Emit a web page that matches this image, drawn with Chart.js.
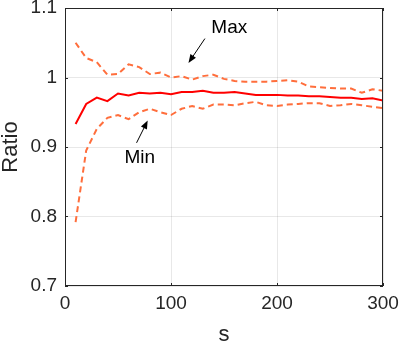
<!DOCTYPE html>
<html>
<head>
<meta charset="utf-8">
<script src="https://cdn.jsdelivr.net/npm/chart.js@4/dist/chart.umd.min.js"></script>
<style>
  html, body { margin: 0; padding: 0; background: #fff; }
  #wrap { width: 400px; height: 348px; }
</style>
</head>
<body>
<div id="wrap"><canvas id="ratioChart" width="400" height="348"></canvas></div>
<script>
'use strict';

// window size s
const sValues = [10, 20, 30, 40, 50, 60, 70, 80, 90, 100,
    110, 120, 130, 140, 150, 160, 170, 180, 190, 200,
    210, 220, 230, 240, 250, 260, 270, 280, 290, 300];

const meanRatio = [0.933, 0.962, 0.971, 0.966, 0.977, 0.974, 0.978, 0.977, 0.978, 0.976,
    0.979, 0.979, 0.981, 0.978, 0.978, 0.979, 0.977, 0.975, 0.975, 0.975,
    0.974, 0.974, 0.973, 0.973, 0.972, 0.971, 0.971, 0.969, 0.970, 0.967];

const maxRatio = [1.050, 1.028, 1.022, 1.004, 1.005, 1.019, 1.015, 1.005, 1.007, 1.000,
    1.002, 0.997, 1.002, 1.004, 0.998, 0.995, 0.994, 0.994, 0.994, 0.995,
    0.996, 0.994, 0.987, 0.986, 0.985, 0.984, 0.984, 0.978, 0.983, 0.981];

const minRatio = [0.792, 0.895, 0.926, 0.942, 0.946, 0.940, 0.950, 0.955, 0.950, 0.946,
    0.955, 0.959, 0.955, 0.961, 0.961, 0.960, 0.963, 0.965, 0.960, 0.959,
    0.961, 0.962, 0.963, 0.963, 0.959, 0.960, 0.962, 0.960, 0.958, 0.956];

const xTicks = [0, 100, 200, 300];
const yTicks = [0.7, 0.8, 0.9, 1, 1.1];

// annotation labels and arrows [fromX, fromY, toX, toY] in data units
const maxNote = { text: 'Max', x: 155, y: 1.072, arrow: [132, 1.056, 116.5, 1.021] };
const minNote = { text: 'Min', x: 70.5, y: 0.884, arrow: [67.5, 0.906, 78, 0.938] };

const axisColor = '#262626';
const dashColor = 'rgb(255, 110, 60)';

const toPairs = (ys) => ys.map((v, i) => ({ x: sValues[i], y: v }));

// box + inward ticks, like the original figure
const boxPlugin = {
    id: 'boxPlugin',
    afterDraw(chart) {
        const { ctx, chartArea: a, scales } = chart;
        ctx.save();
        ctx.strokeStyle = axisColor;
        ctx.lineWidth = 1;
        ctx.strokeRect(a.left + 0.5, a.top + 0.5, a.right - a.left - 1, a.bottom - a.top - 1);
        const tl = 3;
        ctx.beginPath();
        xTicks.forEach(t => {
            const px = Math.round(scales.x.getPixelForValue(t)) + 0.5;
            ctx.moveTo(px, a.bottom); ctx.lineTo(px, a.bottom - tl);
            ctx.moveTo(px, a.top); ctx.lineTo(px, a.top + tl);
        });
        yTicks.forEach(t => {
            const py = Math.round(scales.y.getPixelForValue(t)) + 0.5;
            ctx.moveTo(a.left, py); ctx.lineTo(a.left + tl, py);
            ctx.moveTo(a.right, py); ctx.lineTo(a.right - tl, py);
        });
        ctx.stroke();
        ctx.restore();
    }
};

function drawArrow(ctx, x0, y0, x1, y1) {
    const ang = Math.atan2(y1 - y0, x1 - x0);
    const head = 9, spread = 0.38;
    ctx.beginPath();
    ctx.moveTo(x0, y0);
    ctx.lineTo(x1 - Math.cos(ang) * head * 0.8, y1 - Math.sin(ang) * head * 0.8);
    ctx.stroke();
    ctx.beginPath();
    ctx.moveTo(x1, y1);
    ctx.lineTo(x1 - head * Math.cos(ang - spread), y1 - head * Math.sin(ang - spread));
    ctx.lineTo(x1 - head * Math.cos(ang + spread), y1 - head * Math.sin(ang + spread));
    ctx.closePath();
    ctx.fill();
}

const notePlugin = {
    id: 'notePlugin',
    afterDatasetsDraw(chart) {
        const { ctx, scales } = chart;
        ctx.save();
        ctx.fillStyle = '#000';
        ctx.strokeStyle = '#000';
        ctx.lineWidth = 1;
        ctx.font = '19px "Liberation Sans", Arial, sans-serif';
        ctx.textAlign = 'center';
        ctx.textBaseline = 'middle';
        [maxNote, minNote].forEach(n => {
            ctx.fillText(n.text, scales.x.getPixelForValue(n.x), scales.y.getPixelForValue(n.y));
            const [ax, ay, bx, by] = n.arrow;
            drawArrow(ctx,
                scales.x.getPixelForValue(ax), scales.y.getPixelForValue(ay),
                scales.x.getPixelForValue(bx), scales.y.getPixelForValue(by));
        });
        ctx.restore();
    }
};

const tickFont = { family: '"Liberation Sans", Arial, sans-serif', size: 19 };
const titleFont = { family: '"Liberation Sans", Arial, sans-serif', size: 22, lineHeight: 1 };

new Chart(document.getElementById('ratioChart'), {
    type: 'line',
    data: {
        datasets: [
            {
                label: 'Mean',
                data: toPairs(meanRatio),
                borderColor: 'rgb(255, 0, 0)',
                borderWidth: 2,
                pointRadius: 0,
                tension: 0
            },
            {
                label: 'Max',
                data: toPairs(maxRatio),
                borderColor: dashColor,
                borderWidth: 2,
                borderDash: [6, 4],
                pointRadius: 0,
                tension: 0
            },
            {
                label: 'Min',
                data: toPairs(minRatio),
                borderColor: dashColor,
                borderWidth: 2,
                borderDash: [6, 4],
                pointRadius: 0,
                tension: 0
            }
        ]
    },
    options: {
        responsive: false,
        animation: false,
        layout: { padding: { left: 0, right: 17, top: 8, bottom: 0 } },
        plugins: {
            legend: { display: false },
            tooltip: { enabled: false }
        },
        scales: {
            x: {
                type: 'linear',
                min: 0,
                max: 300,
                afterBuildTicks: (scale) => { scale.ticks = xTicks.map(v => ({ value: v })); },
                afterFit: (scale) => {
                    scale.height = 62;
                    scale.paddingLeft = 0;
                    scale.paddingRight = 0;
                },
                grid: { color: 'rgba(0,0,0,0.09)', drawTicks: false },
                border: { display: false },
                ticks: { font: tickFont, color: axisColor, padding: 6, maxRotation: 0 },
                title: { display: true, text: 's', font: titleFont, color: axisColor, padding: { top: 0, bottom: 2 } }
            },
            y: {
                type: 'linear',
                min: 0.7,
                max: 1.1,
                afterBuildTicks: (scale) => { scale.ticks = yTicks.map(v => ({ value: v })); },
                afterFit: (scale) => {
                    scale.width = 65;
                    scale.paddingTop = 0;
                    scale.paddingBottom = 0;
                },
                grid: { color: 'rgba(0,0,0,0.09)', drawTicks: false },
                border: { display: false },
                ticks: {
                    font: tickFont,
                    color: axisColor,
                    padding: 8,
                    callback: (v) => String(Math.round(v * 10) / 10)
                },
                title: { display: true, text: 'Ratio', font: titleFont, color: axisColor, padding: { top: 0, bottom: 0 } }
            }
        }
    },
    plugins: [boxPlugin, notePlugin]
});
</script>
</body>
</html>
